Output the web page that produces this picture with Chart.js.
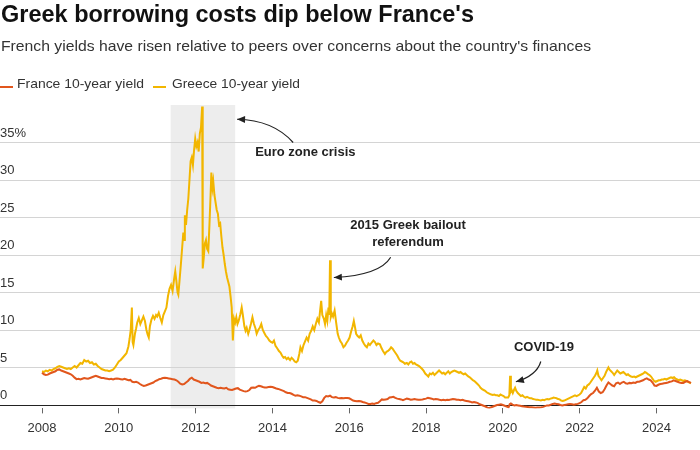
<!DOCTYPE html>
<html>
<head>
<meta charset="utf-8">
<script src="https://cdn.jsdelivr.net/npm/chart.js@4"></script>
<style>
  html, body { margin: 0; padding: 0; background: #fff; }
  #wrap { position: relative; width: 700px; height: 450px; }
</style>
</head>
<body>
<div id="wrap"><canvas id="chart" width="700" height="450"></canvas></div>
<script>
// Greece 10-year yield, % (decimal year, value)
const greeceYears = [
  2008.00,2008.05,2008.10,2008.15,2008.20,2008.25,2008.30,2008.35,2008.40,2008.45,2008.50,2008.55,2008.60,2008.65,2008.70,2008.75,2008.80,2008.85,2008.90,2008.95,
  2009.00,2009.05,2009.10,2009.15,2009.20,2009.25,2009.30,2009.35,2009.40,2009.45,2009.50,2009.55,2009.60,2009.65,2009.70,2009.75,2009.80,2009.85,2009.90,2009.95,
  2010.00,2010.05,2010.10,2010.15,2010.20,2010.25,2010.28,2010.31,2010.34,2010.36,2010.38,2010.42,2010.45,2010.48,2010.52,2010.56,2010.60,2010.64,2010.68,2010.72,
  2010.75,2010.78,2010.81,2010.85,2010.89,2010.93,2010.97,2011.00,2011.04,2011.08,2011.12,2011.16,2011.20,2011.24,2011.28,2011.32,2011.36,2011.40,2011.44,2011.47,
  2011.50,2011.53,2011.55,2011.58,2011.62,2011.65,2011.68,2011.70,2011.72,2011.75,2011.78,2011.81,2011.84,2011.87,2011.90,2011.93,2011.96,2011.99,2012.02,2012.05,
  2012.08,2012.11,2012.14,2012.17,2012.185,2012.21,2012.24,2012.27,2012.30,2012.33,2012.36,2012.39,2012.41,2012.44,2012.46,2012.49,2012.52,2012.55,2012.58,2012.61,
  2012.64,2012.67,2012.70,2012.73,2012.76,2012.79,2012.82,2012.85,2012.88,2012.91,2012.94,2012.97,2013.00,2013.03,2013.06,2013.09,2013.12,2013.16,2013.20,2013.23,
  2013.27,2013.30,2013.33,2013.37,2013.40,2013.44,2013.48,2013.52,2013.56,2013.59,2013.63,2013.67,2013.71,2013.75,2013.79,2013.83,2013.87,2013.92,2013.96,2014.00,
  2014.04,2014.08,2014.12,2014.17,2014.21,2014.25,2014.29,2014.33,2014.37,2014.41,2014.46,2014.50,2014.54,2014.58,2014.62,2014.66,2014.70,2014.73,2014.77,2014.81,
  2014.85,2014.89,2014.93,2014.97,2015.01,2015.05,2015.09,2015.13,2015.17,2015.21,2015.24,2015.27,2015.30,2015.34,2015.37,2015.40,2015.43,2015.46,2015.48,2015.50,
  2015.52,2015.55,2015.58,2015.62,2015.66,2015.70,2015.73,2015.77,2015.81,2015.85,2015.89,2015.93,2015.97,2016.01,2016.05,2016.09,2016.12,2016.15,2016.18,2016.22,
  2016.26,2016.30,2016.34,2016.38,2016.42,2016.46,2016.50,2016.54,2016.58,2016.63,2016.67,2016.71,2016.75,2016.80,2016.84,2016.88,2016.93,2016.97,2017.01,2017.05,
  2017.09,2017.13,2017.17,2017.21,2017.25,2017.29,2017.33,2017.37,2017.41,2017.45,2017.50,2017.54,2017.58,2017.62,2017.66,2017.70,2017.74,2017.78,2017.82,2017.86,
  2017.90,2017.94,2017.98,2018.02,2018.06,2018.10,2018.14,2018.18,2018.22,2018.26,2018.30,2018.34,2018.38,2018.42,2018.46,2018.50,2018.54,2018.58,2018.62,2018.66,
  2018.70,2018.74,2018.78,2018.82,2018.86,2018.90,2018.94,2018.98,2019.02,2019.06,2019.10,2019.14,2019.18,2019.22,2019.26,2019.30,2019.34,2019.38,2019.42,2019.46,
  2019.50,2019.54,2019.58,2019.62,2019.66,2019.70,2019.74,2019.78,2019.82,2019.86,2019.90,2019.94,2019.98,2020.02,2020.06,2020.10,2020.14,2020.17,2020.19,2020.21,
  2020.23,2020.26,2020.29,2020.32,2020.35,2020.39,2020.43,2020.47,2020.51,2020.55,2020.59,2020.63,2020.67,2020.71,2020.75,2020.79,2020.83,2020.87,2020.91,2020.95,
  2020.99,2021.04,2021.08,2021.12,2021.16,2021.20,2021.24,2021.28,2021.32,2021.36,2021.40,2021.44,2021.48,2021.52,2021.56,2021.60,2021.64,2021.68,2021.72,2021.76,
  2021.80,2021.84,2021.88,2021.92,2021.96,2022.00,2022.04,2022.08,2022.12,2022.16,2022.20,2022.24,2022.28,2022.32,2022.36,2022.40,2022.44,2022.46,2022.49,2022.53,
  2022.57,2022.61,2022.65,2022.69,2022.73,2022.75,2022.78,2022.82,2022.86,2022.90,2022.94,2022.98,2023.02,2023.06,2023.10,2023.14,2023.18,2023.22,2023.26,2023.30,
  2023.34,2023.38,2023.42,2023.46,2023.50,2023.54,2023.58,2023.62,2023.66,2023.70,2023.74,2023.78,2023.82,2023.86,2023.90,2023.94,2023.98,2024.02,2024.06,2024.10,
  2024.14,2024.18,2024.22,2024.26,2024.30,2024.34,2024.38,2024.42,2024.46,2024.50,2024.54,2024.58,2024.62,2024.66,2024.70,2024.74,2024.78,2024.82,2024.86,2024.90
];
const greeceYields = [
  4.5,4.4,4.6,4.5,4.7,4.6,4.8,4.9,5.1,5.2,5.1,5.0,4.9,4.8,4.9,4.8,5.0,5.2,5.0,5.3,
  5.6,5.5,6.0,5.8,5.9,5.6,5.7,5.4,5.5,5.2,5.0,4.8,4.7,4.6,4.6,4.5,4.6,4.7,5.0,5.4,
  5.8,6.0,6.3,6.6,6.9,7.8,8.8,10.0,13.0,8.4,8.0,9.5,10.2,11.0,11.6,10.8,11.3,11.8,11.2,10.0,
  9.4,9.0,10.5,11.4,11.9,11.5,12.0,11.8,12.3,11.6,11.0,12.0,12.5,13.0,14.5,15.5,16.0,15.2,16.8,17.8,
  16.5,15.0,14.7,16.5,19.0,21.0,23.0,22.0,25.3,24.0,26.0,27.5,30.0,32.5,33.0,32.0,34.0,35.5,34.5,35.0,
  33.8,36.2,37.0,39.8,18.2,19.5,21.5,22.0,20.8,20.5,24.0,28.0,31.0,29.0,29.8,28.0,27.0,26.0,25.5,24.0,
  24.2,22.5,21.0,20.0,18.8,17.8,17.0,16.4,15.8,14.5,13.0,8.6,11.5,11.0,11.7,10.8,11.2,12.0,13.0,12.0,
  10.5,9.9,10.3,9.5,10.0,10.8,11.7,10.8,10.2,9.5,10.0,10.3,10.8,10.0,9.6,9.2,9.0,8.6,8.4,8.3,
  8.6,7.9,7.6,7.2,7.0,6.6,6.3,6.4,6.1,6.3,6.0,6.3,6.1,5.8,5.7,5.9,6.8,7.7,7.2,8.0,
  8.5,9.0,8.6,9.5,9.9,10.5,10.0,10.8,11.5,11.0,12.5,13.9,12.0,11.5,10.8,12.0,11.2,13.0,12.0,19.3,
  11.7,12.2,11.8,12.6,11.0,9.5,9.0,8.5,8.2,7.7,7.9,8.3,8.6,9.0,9.8,10.5,11.2,10.4,9.5,9.2,
  9.0,9.3,8.6,8.2,7.9,7.7,8.2,8.0,8.3,8.6,8.4,8.0,8.2,8.1,7.6,7.2,6.8,7.1,7.2,7.4,
  7.7,7.5,7.2,6.9,6.6,6.2,5.9,5.8,5.7,5.5,5.6,5.4,5.7,5.8,5.5,5.6,5.4,5.3,5.2,5.0,
  4.8,4.55,4.2,4.0,3.8,4.2,4.1,4.3,4.0,4.2,4.4,4.6,4.4,4.2,4.3,4.1,4.3,4.5,4.2,4.4,
  4.5,4.6,4.5,4.4,4.3,4.4,4.2,4.1,4.2,4.0,3.8,3.7,3.5,3.3,3.2,3.0,2.8,2.6,2.3,2.1,
  2.0,1.9,1.7,1.6,1.5,1.4,1.35,1.4,1.3,1.3,1.2,1.4,1.3,1.2,1.0,1.0,1.0,1.3,3.9,1.8,
  2.0,1.6,2.0,2.3,1.9,1.6,1.4,1.2,1.3,1.1,1.0,1.1,1.0,0.9,0.9,0.8,0.75,0.7,0.7,0.65,
  0.6,0.7,0.65,0.75,0.8,0.75,0.85,0.9,1.0,0.95,0.9,0.8,0.75,0.6,0.55,0.6,0.7,0.8,0.9,1.0,
  1.1,1.2,1.3,1.2,1.3,1.4,1.6,2.0,2.4,2.2,2.6,2.75,3.0,3.3,3.6,3.9,4.3,4.6,3.9,3.6,
  3.3,3.6,3.9,4.4,4.8,5.0,4.7,4.5,4.3,4.0,4.3,4.6,4.4,4.2,4.3,4.4,4.2,4.0,4.1,3.9,
  3.8,3.75,3.8,3.7,3.8,3.9,4.0,4.1,4.2,4.4,4.3,4.1,4.0,3.8,3.5,3.2,3.1,3.2,3.3,3.3,
  3.4,3.4,3.5,3.4,3.5,3.6,3.7,3.6,3.7,3.5,3.4,3.3,3.4,3.3,3.2,3.3,3.2,3.1,3.0,2.9
];

// France 10-year yield, % (decimal year, value)
const franceYears = [
  2008.00,2008.05,2008.10,2008.15,2008.20,2008.25,2008.30,2008.35,2008.40,2008.45,2008.50,2008.55,2008.60,2008.65,2008.70,2008.75,2008.80,2008.85,2008.90,2008.95,
  2009.00,2009.05,2009.10,2009.15,2009.20,2009.25,2009.30,2009.35,2009.40,2009.45,2009.50,2009.55,2009.60,2009.65,2009.70,2009.75,2009.80,2009.85,2009.90,2009.95,
  2010.00,2010.05,2010.10,2010.15,2010.20,2010.25,2010.30,2010.35,2010.40,2010.45,2010.50,2010.55,2010.60,2010.65,2010.70,2010.75,2010.80,2010.85,2010.90,2010.95,
  2011.00,2011.05,2011.10,2011.15,2011.20,2011.25,2011.30,2011.35,2011.40,2011.45,2011.50,2011.55,2011.60,2011.65,2011.70,2011.75,2011.80,2011.85,2011.90,2011.95,
  2012.00,2012.05,2012.10,2012.15,2012.20,2012.25,2012.30,2012.35,2012.40,2012.45,2012.50,2012.55,2012.60,2012.65,2012.70,2012.75,2012.80,2012.85,2012.90,2012.95,
  2013.00,2013.05,2013.10,2013.15,2013.20,2013.25,2013.30,2013.35,2013.40,2013.45,2013.50,2013.55,2013.60,2013.65,2013.70,2013.75,2013.80,2013.85,2013.90,2013.95,
  2014.00,2014.05,2014.10,2014.15,2014.20,2014.25,2014.30,2014.35,2014.40,2014.45,2014.50,2014.55,2014.60,2014.65,2014.70,2014.75,2014.80,2014.85,2014.90,2014.95,
  2015.00,2015.05,2015.10,2015.15,2015.20,2015.25,2015.30,2015.35,2015.40,2015.45,2015.50,2015.55,2015.60,2015.65,2015.70,2015.75,2015.80,2015.85,2015.90,2015.95,
  2016.00,2016.05,2016.10,2016.15,2016.20,2016.25,2016.30,2016.35,2016.40,2016.45,2016.50,2016.55,2016.60,2016.65,2016.70,2016.75,2016.80,2016.85,2016.90,2016.95,
  2017.00,2017.05,2017.10,2017.15,2017.20,2017.25,2017.30,2017.35,2017.40,2017.45,2017.50,2017.55,2017.60,2017.65,2017.70,2017.75,2017.80,2017.85,2017.90,2017.95,
  2018.00,2018.05,2018.10,2018.15,2018.20,2018.25,2018.30,2018.35,2018.40,2018.45,2018.50,2018.55,2018.60,2018.65,2018.70,2018.75,2018.80,2018.85,2018.90,2018.95,
  2019.00,2019.05,2019.10,2019.15,2019.20,2019.25,2019.30,2019.35,2019.40,2019.45,2019.50,2019.55,2019.60,2019.65,2019.70,2019.75,2019.80,2019.85,2019.90,2019.95,
  2020.00,2020.05,2020.10,2020.15,2020.18,2020.21,2020.25,2020.30,2020.35,2020.40,2020.45,2020.50,2020.55,2020.60,2020.65,2020.70,2020.75,2020.80,2020.85,2020.90,2020.95,
  2021.00,2021.05,2021.10,2021.15,2021.20,2021.25,2021.30,2021.35,2021.40,2021.45,2021.50,2021.55,2021.60,2021.65,2021.70,2021.75,2021.80,2021.85,2021.90,2021.95,
  2022.00,2022.05,2022.10,2022.15,2022.20,2022.25,2022.30,2022.35,2022.40,2022.45,2022.50,2022.55,2022.60,2022.65,2022.70,2022.75,2022.80,2022.85,2022.90,2022.95,
  2023.00,2023.05,2023.10,2023.15,2023.20,2023.25,2023.30,2023.35,2023.40,2023.45,2023.50,2023.55,2023.60,2023.65,2023.70,2023.75,2023.80,2023.85,2023.90,2023.95,
  2024.00,2024.05,2024.10,2024.15,2024.20,2024.25,2024.30,2024.35,2024.40,2024.45,2024.50,2024.55,2024.60,2024.65,2024.70,2024.75,2024.80,2024.85,2024.90
];
const franceYields = [
  4.3,4.1,4.0,4.05,4.2,4.3,4.4,4.5,4.7,4.75,4.6,4.5,4.4,4.3,4.2,4.1,3.9,3.65,3.45,3.5,
  3.4,3.5,3.6,3.55,3.5,3.6,3.7,3.8,3.9,3.8,3.7,3.6,3.6,3.55,3.5,3.45,3.5,3.4,3.5,3.55,
  3.5,3.45,3.4,3.5,3.4,3.3,3.35,3.1,3.05,3.1,3.0,2.8,2.65,2.55,2.6,2.7,2.8,2.9,3.0,3.2,
  3.3,3.45,3.5,3.6,3.65,3.6,3.55,3.5,3.45,3.4,3.3,3.1,2.85,2.75,2.8,3.0,3.2,3.5,3.65,3.4,
  3.3,3.2,3.1,2.95,3.0,2.9,2.95,2.8,2.6,2.5,2.4,2.3,2.25,2.3,2.25,2.2,2.3,2.1,2.05,2.0,
  2.1,2.2,2.25,2.05,1.95,1.85,1.8,1.85,2.0,2.3,2.35,2.3,2.45,2.55,2.5,2.4,2.35,2.35,2.4,2.45,
  2.4,2.3,2.2,2.15,2.05,1.95,1.85,1.7,1.6,1.6,1.5,1.35,1.25,1.3,1.25,1.15,1.05,1.05,0.95,0.85,
  0.75,0.6,0.6,0.55,0.4,0.3,0.5,0.95,1.2,1.15,1.25,1.05,1.0,1.05,0.95,0.9,0.95,0.9,0.95,0.95,
  0.9,0.75,0.6,0.55,0.5,0.55,0.5,0.4,0.35,0.25,0.15,0.15,0.2,0.15,0.25,0.3,0.5,0.75,0.7,0.75,
  0.8,1.0,1.05,1.1,0.95,0.85,0.8,0.75,0.65,0.75,0.85,0.8,0.7,0.75,0.8,0.75,0.7,0.7,0.72,0.8,
  0.85,0.95,0.9,0.85,0.75,0.8,0.78,0.7,0.65,0.7,0.65,0.7,0.68,0.75,0.8,0.78,0.7,0.7,0.65,0.7,
  0.6,0.55,0.5,0.45,0.35,0.4,0.35,0.25,0.1,0.0,-0.1,-0.2,-0.35,-0.4,-0.3,-0.2,-0.1,0.0,0.05,0.1,
  0.0,-0.1,-0.2,-0.3,0.1,0.2,0.05,-0.05,0.0,-0.05,-0.1,-0.15,-0.2,-0.22,-0.25,-0.3,-0.3,-0.32,-0.35,-0.34,-0.33,
  -0.3,-0.25,-0.15,-0.05,-0.05,0.05,0.15,0.2,0.15,0.1,0.0,-0.05,0.0,0.05,0.1,0.15,0.1,0.05,0.1,0.15,
  0.25,0.4,0.65,0.7,0.9,1.2,1.45,1.6,1.9,2.3,1.8,1.6,1.7,2.1,2.6,3.0,2.8,2.6,2.5,2.9,
  3.0,2.8,3.0,3.1,2.9,2.85,2.95,2.9,3.0,2.95,3.1,3.1,3.2,3.3,3.45,3.55,3.4,3.3,3.0,2.6,
  2.55,2.7,2.8,2.85,2.9,2.95,3.0,3.1,3.15,3.3,3.2,3.1,3.0,2.95,2.95,3.1,3.2,3.05,2.95
];

const xTickYears = [2008, 2010, 2012, 2014, 2016, 2018, 2020, 2022, 2024];
const yTickValues = [0, 5, 10, 15, 20, 25, 30, 35];

// Euro zone crisis shading (start, end year)
const crisisSpan = [2011.35, 2013.03];

// annotations in data units: text anchor, arrow start / bend / tip
const notes = [
  { lines: ['Euro zone crisis'], at: [2013.55, 33.7], align: 'left',
    from: [2014.54, 35.0], bend: [2014.02, 38.0], to: [2013.08, 38.1] },
  { lines: ['2015 Greek bailout', 'referendum'], at: [2017.53, 23.9], align: 'center',
    from: [2017.08, 19.7], bend: [2016.80, 17.3], to: [2015.60, 17.0] },
  { lines: ['COVID-19'], at: [2020.29, 7.67], align: 'left',
    from: [2020.99, 5.8], bend: [2020.88, 3.9], to: [2020.34, 3.1] }
];

const franceColor = '#e1561d';
const greeceColor = '#f2b600';
const FONT = '"Liberation Sans", Arial, Helvetica, sans-serif';

function toPoints(xs, ys) {
  return xs.map((x, i) => ({ x: x, y: ys[i] }));
}

// draw text squeezed to a target width (source font is a bit narrower)
function fitText(ctx, text, x, y, w) {
  const m = ctx.measureText(text).width;
  ctx.save();
  ctx.translate(x, y);
  ctx.scale(w / m, 1);
  ctx.fillText(text, 0, 0);
  ctx.restore();
}

const shadePlugin = {
  id: 'shade',
  beforeDraw(chart) {
    const { ctx, chartArea, scales } = chart;
    const x0 = scales.x.getPixelForValue(crisisSpan[0]);
    const x1 = scales.x.getPixelForValue(crisisSpan[1]);
    ctx.save();
    ctx.fillStyle = '#ededed';
    ctx.fillRect(x0, chartArea.top, x1 - x0, chartArea.bottom - chartArea.top);
    ctx.restore();
  }
};

const notesPlugin = {
  id: 'notes',
  afterDraw(chart) {
    const { ctx, scales } = chart;
    const px = p => [scales.x.getPixelForValue(p[0]), scales.y.getPixelForValue(p[1])];
    ctx.save();
    notes.forEach(n => {
      const a = px(n.at);
      ctx.font = 'bold 13px ' + FONT;
      ctx.fillStyle = '#222';
      ctx.textAlign = n.align;
      ctx.textBaseline = 'middle';
      n.lines.forEach((t, i) => ctx.fillText(t, a[0], a[1] + i * 16.5));

      const f = px(n.from), b = px(n.bend), t = px(n.to);
      ctx.strokeStyle = '#222';
      ctx.lineWidth = 1.2;
      ctx.beginPath();
      ctx.moveTo(f[0], f[1]);
      ctx.quadraticCurveTo(b[0], b[1], t[0], t[1]);
      ctx.stroke();
      const ang = Math.atan2(t[1] - b[1], t[0] - b[0]);
      ctx.fillStyle = '#222';
      ctx.beginPath();
      ctx.moveTo(t[0], t[1]);
      ctx.lineTo(t[0] - 8 * Math.cos(ang) + 3.5 * Math.sin(ang), t[1] - 8 * Math.sin(ang) - 3.5 * Math.cos(ang));
      ctx.lineTo(t[0] - 8 * Math.cos(ang) - 3.5 * Math.sin(ang), t[1] - 8 * Math.sin(ang) + 3.5 * Math.cos(ang));
      ctx.closePath();
      ctx.fill();
    });

    // header: title, subtitle, legend
    ctx.textAlign = 'left';
    ctx.textBaseline = 'alphabetic';
    ctx.fillStyle = '#111';
    ctx.font = 'bold 24px ' + FONT;
    fitText(ctx, "Greek borrowing costs dip below France's", 1, 22, 473);
    ctx.fillStyle = '#333';
    ctx.font = '15px ' + FONT;
    fitText(ctx, "French yields have risen relative to peers over concerns about the country's finances", 1, 50.5, 590);

    const sets = chart.data.datasets;
    const legendX = [[0, 17, 127], [153, 172, 128]];
    sets.forEach((ds, i) => {
      const [mx, tx, tw] = legendX[i];
      ctx.fillStyle = ds.borderColor;
      ctx.fillRect(mx, 86, 13, 2);
      ctx.fillStyle = '#333';
      ctx.font = '13.5px ' + FONT;
      fitText(ctx, ds.label, tx, 88, tw);
    });
    ctx.restore();
  }
};

new Chart(document.getElementById('chart'), {
  type: 'line',
  data: {
    datasets: [
      { label: 'France 10-year yield', data: toPoints(franceYears, franceYields),
        borderColor: franceColor, borderWidth: 2, pointRadius: 0, tension: 0 },
      { label: 'Greece 10-year yield', data: toPoints(greeceYears, greeceYields),
        borderColor: greeceColor, borderWidth: 2, pointRadius: 0, tension: 0 }
    ]
  },
  options: {
    responsive: false,
    animation: false,
    devicePixelRatio: 1,
    layout: { padding: { top: 105, left: 0, right: 0, bottom: 7 } },
    plugins: { legend: { display: false }, title: { display: false }, tooltip: { enabled: false } },
    scales: {
      x: {
        type: 'linear',
        min: 2006.906,
        max: 2025.135,
        afterBuildTicks: s => { s.ticks = xTickYears.map(v => ({ value: v })); },
        border: { display: false },
        grid: { drawOnChartArea: false, drawTicks: true, tickLength: 5, color: '#666' },
        ticks: { callback: v => String(v), color: '#333', padding: 7, maxRotation: 0,
                 font: { family: FONT, size: 13 } }
      },
      y: {
        min: -0.45,
        max: 40,
        afterBuildTicks: s => { s.ticks = yTickValues.map(v => ({ value: v })); },
        border: { display: false },
        grid: {
          drawTicks: false,
          color: c => (c.tick && c.tick.value === 0 ? '#222' : '#d4d4d4'),
          lineWidth: 1
        },
        ticks: {
          mirror: true, padding: 0, labelOffset: -9.5, color: '#333',
          font: { family: FONT, size: 13 },
          callback: v => (v === 35 ? '35%' : String(v))
        }
      }
    }
  },
  plugins: [shadePlugin, notesPlugin]
});
</script>
</body>
</html>
